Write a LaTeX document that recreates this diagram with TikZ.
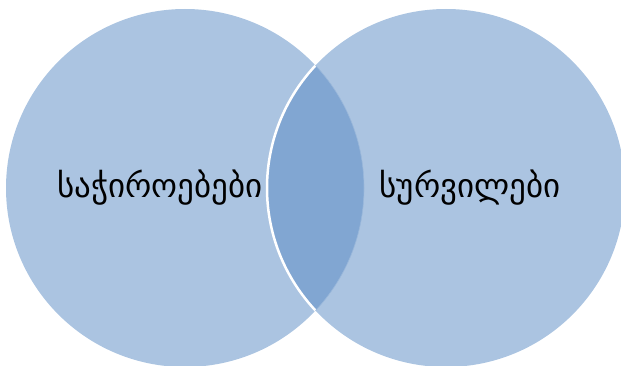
\documentclass[tikz,border=0pt]{standalone}
\usepackage{fontspec}
\newfontfamily\geofont{DejaVu Sans}
\usepackage{tikz}
\definecolor{VennLight}{HTML}{ABC4E1}
\definecolor{VennDark}{HTML}{81A6D2}
\tikzset{
  venn/set/.style={fill=VennLight},
  venn/overlap/.style={fill=VennDark},
  venn/rim/.style={draw=white, line width=2.5pt},
  venn/edge/.style={draw=VennLight!60!VennDark, line width=0.6pt},
  venn/label/.style={font=\geofont\fontsize{33}{39}\selectfont, text=black, inner sep=0pt}
}

\begin{document}
\begin{tikzpicture}[x=1pt,y=-1pt]
\useasboundingbox (0,0) rectangle (621,366);

\fill[venn/set] (185,188) circle (179);
\fill[venn/set] (446,188) circle (179);

\begin{scope}
  \clip (185,188) circle (179);
  \fill[venn/overlap] (446,188) circle (179);
  \draw[venn/rim] (446,188) circle (179);
\end{scope}
\begin{scope}
  \clip (446,188) circle (179);
  \draw[venn/edge] (185,188) circle (179);
\end{scope}

\node[venn/label] (needs) at (160,188) {საჭიროებები};
\node[venn/label] (wants) at (470,188) {სურვილები};

\end{tikzpicture}
\end{document}
